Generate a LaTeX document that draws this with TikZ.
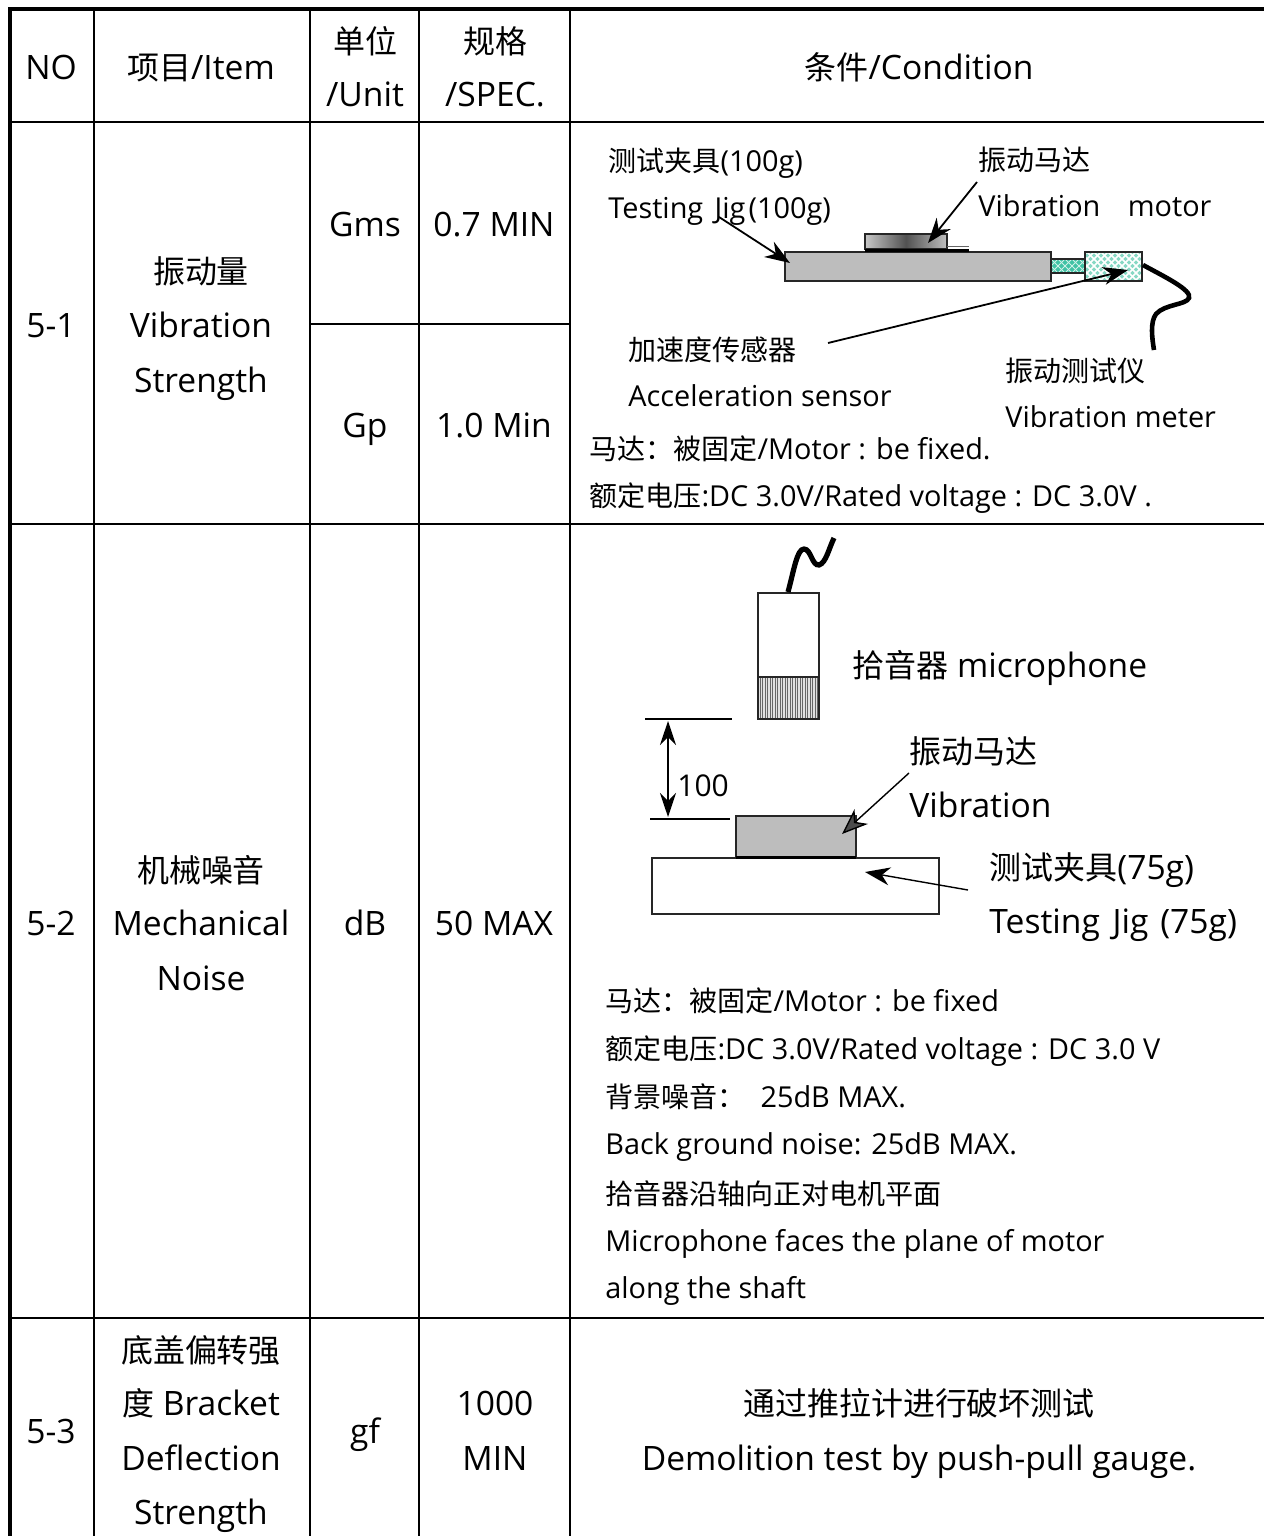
\documentclass[tikz,border=0pt]{standalone}
\usepackage{fontspec}
\setmainfont{Open Sans}
\newfontfamily\cjkbig[Scale=0.952]{Noto Sans CJK SC}
\newfontfamily\cjksmall[Scale=0.972]{Noto Sans CJK SC}
\usetikzlibrary{arrows.meta,patterns}
\newcommand\C[1]{{\cjkcur #1}}
\let\cjkcur\cjkbig
\definecolor{jiggray}{HTML}{BDBDBD}
\definecolor{tealA}{HTML}{86D8C4}
\definecolor{tealB}{HTML}{3FC2A4}
\tikzset{
  big/.style={font=\fontsize{16.8}{20}\selectfont\let\cjkcur\cjkbig,inner sep=0pt,anchor=base},
  small/.style={font=\fontsize{14.42}{17}\selectfont\let\cjkcur\cjksmall,inner sep=0pt,anchor=base west},
  mid/.style={font=\fontsize{16.8}{20}\selectfont\let\cjkcur\cjkbig,inner sep=0pt,anchor=base west},
  grid/.style={line width=0.9pt,black},
  outer/.style={line width=2pt,black},
  part/.style={draw=black!85,line width=0.8pt},
  lead/.style={line width=0.9pt,-{Stealth[length=12.5pt,width=9pt,inset=4pt]}},
  cable/.style={line width=2.3pt,line cap=butt,black},
}
\begin{document}
\begin{tikzpicture}[x=0.5pt,y=-0.5pt]
\useasboundingbox (0,0) rectangle (1264,1536);
% grid
\foreach \x in {94,310,419,570} \draw[grid] (\x,9) -- (\x,1536);
\foreach \y in {122,524,1318} \draw[grid] (10,\y) -- (1264,\y);
\draw[grid] (310,324) -- (570,324);
\draw[outer] (9.5,1536) -- (9.5,9) -- (1264,9);
% header
\node[big] (hNo) at (51,80) {NO};
\node[big] (hItem) at (201,80) {\C{项目}/Item};
\node[big] (hUa) at (365,54) {\C{单位}};
\node[big] (hUb) at (365,107) {/Unit};
\node[big] (hSa) at (495,54) {\C{规格}};
\node[big] (hSb) at (495,107) {/SPEC.};
\node[big] (hCond) at (919,80) {\C{条件}/Condition};
% row 5-1
\node[big] (aNo) at (51,337) {5-1};
\node[big] (aI1) at (201,283) {\C{振动量}};
\node[big] (aI2) at (201,337) {Vibration};
\node[big] (aI3) at (201,392) {Strength};
\node[big] (aU1) at (365,236) {Gms};
\node[big] (aS1) at (494,236) {0.7 MIN};
\node[big] (aU2) at (365,437) {Gp};
\node[big] (aS2) at (494,437) {1.0 Min};
% row 5-2
\node[big] (bNo) at (51,935) {5-2};
\node[big] (bI1) at (201,882) {\C{机械噪音}};
\node[big] (bI2) at (201,935) {Mechanical};
\node[big] (bI3) at (201,990) {Noise};
\node[big] (bU) at (365,935) {dB};
\node[big] (bS) at (494,935) {50 MAX};
% row 5-3
\node[big] (cNo) at (51,1443) {5-3};
\node[big] (cI1) at (201,1362) {\C{底盖偏转强}};
\node[big] (cI2) at (201,1415) {\C{度} Bracket};
\node[big] (cI3) at (201,1470) {Deflection};
\node[big] (cI4) at (201,1524) {Strength};
\node[big] (cU) at (365,1443) {gf};
\node[big] (cS1) at (495,1415) {1000};
\node[big] (cS2) at (495,1470) {MIN};
\node[big] (cC1) at (919,1415) {\C{通过推拉计进行破坏测试}};
\node[big] (cC2) at (919,1470) {Demolition test by push-pull gauge.};
% vibration figure
\draw[part,fill=jiggray] (785,252) rectangle (1051,281);
\draw[part,left color=black!22,right color=black!25,middle color=black!68] (865,234) rectangle (947,249);
\draw[line width=1.5pt,black] (865,250.5) -- (969,250.5);
\draw[line width=0.7pt,black!60] (947,246.5) -- (969,246.5);
\fill[tealB] (1051,259) rectangle (1085,273);
\begin{scope}
\clip (1051,259) rectangle (1085,273);
\foreach \k in {1040,1047,...,1100} {
  \draw[line width=0.45pt,white!75!tealB] (\k,255) -- (\k+22,277);
  \draw[line width=0.45pt,white!75!tealB] (\k+22,255) -- (\k,277);
}
\end{scope}
\draw[part] (1051,259) rectangle (1085,273);
\fill[tealA] (1085,252) rectangle (1142,281);
\begin{scope}
\clip (1085,252) rectangle (1142,281);
\foreach \k in {1050,1057,...,1150} {
  \draw[line width=0.75pt,white] (\k,250) -- (\k+32,282);
  \draw[line width=0.75pt,white] (\k+32,250) -- (\k,282);
}
\end{scope}
\draw[part] (1085,252) rectangle (1142,281);
\draw[cable] (1143,265) .. controls (1165,277) and (1192,290) .. (1189,298) .. controls (1186,305) and (1165,304) .. (1156,314) .. controls (1150,322) and (1152,338) .. (1154,350);
\coordinate (mFrom) at (977,182); \coordinate (mTo) at (928,243);
\coordinate (jFrom) at (719,217); \coordinate (jTo) at (790,263);
\coordinate (sFrom) at (828,343); \coordinate (sTo) at (1128,270);
\draw[lead] (mFrom) -- (mTo);
\draw[lead] (jFrom) -- (jTo);
\draw[lead] (sFrom) -- (sTo);
\node[small] (t1) at (608,171) {\C{测试夹具}(100g)};
\node[small] (t2) at (608,218) {Testing\kern2pt\ Jig\kern1.5pt(100g)};
\node[small] (t3) at (978,170) {\C{振动马达}};
\node[small] (t4) at (978,216) {Vibration\ \ \ \kern2.5pt motor};
\node[small] (t5) at (628,360) {\C{加速度传感器}};
\node[small] (t6) at (628,406) {Acceleration sensor};
\node[small] (t7) at (1005,381) {\C{振动测试仪}};
\node[small] (t8) at (1005,427) {Vibration meter};
\node[small] (t9) at (589,459) {\C{马达：被固定}/Motor : be fixed.};
\node[small] (t10) at (589,506) {\C{额定电压}:DC 3.0V/Rated voltage : DC 3.0V .};
% noise figure
\draw[part,fill=white] (758,593) rectangle (819,719);
\fill[black!12] (758,677) rectangle (819,719);
\foreach \x in {760,762.5,...,818} \draw[line width=0.35pt,black!60] (\x,677) -- (\x,719);
\draw[part] (758,593) rectangle (819,719);
\draw[part] (758,677) -- (819,677);
\draw[cable,line width=2.6pt] (788,592) .. controls (794,570) and (797,549) .. (804,549) .. controls (811,549) and (812,566) .. (819,565) .. controls (826,563) and (829,548) .. (834,538);
\draw[line width=1pt] (645,719) -- (732,719);
\draw[line width=1pt] (650,818.5) -- (730,818.5);
\coordinate (dTop) at (668,721); \coordinate (dBot) at (668,817);
\draw[line width=1pt,{Stealth[length=12pt,width=8pt,inset=4pt]}-{Stealth[length=12pt,width=8pt,inset=4pt]}] (dTop) -- (dBot);
\node[small,font=\fontsize{15}{18}\selectfont] (dLab) at (677,796) {100};
\draw[part,line width=0.9pt,fill=jiggray] (736,816) rectangle (856,857);
\draw[part,fill=white] (652,858) rectangle (939,914);
\draw[line width=1.5pt] (736,857.5) -- (856,857.5);
\coordinate (nmFrom) at (909,773); \coordinate (nmTo) at (842,834);
\coordinate (njFrom) at (968,890); \coordinate (njTo) at (865,872);
\draw[line width=0.7pt,-{Stealth[length=13pt,width=10pt,inset=4pt,fill=black!70]}] (nmFrom) -- (nmTo);
\draw[line width=0.7pt,-{Stealth[length=12.5pt,width=9pt,inset=4pt]}] (njFrom) -- (njTo);
\node[mid] (n1) at (852,677) {\C{拾音器} microphone};
\node[mid] (n2) at (909,763) {\C{振动马达}};
\node[mid] (n3) at (909,817) {Vibration};
\node[mid] (n4) at (989,879) {\C{测试夹具}(75g)};
\node[mid] (n5) at (989,933) {Testing\kern2pt\ Jig\kern1.5pt\ (75g)};
\node[small] (l1) at (605,1011) {\C{马达：被固定}/Motor : be fixed};
\node[small] (l2) at (605,1059) {\C{额定电压}:DC 3.0V/Rated voltage : DC 3.0 V};
\node[small] (l3) at (605,1107) {\C{背景噪音：}\ \ 25dB MAX.};
\node[small] (l4) at (605,1154) {Back ground noise: 25dB MAX.};
\node[small] (l5) at (605,1204) {\C{拾音器沿轴向正对电机平面}};
\node[small] (l6) at (605,1251) {Microphone faces the plane of motor};
\node[small] (l7) at (605,1298) {along the shaft};
\end{tikzpicture}
\end{document}
